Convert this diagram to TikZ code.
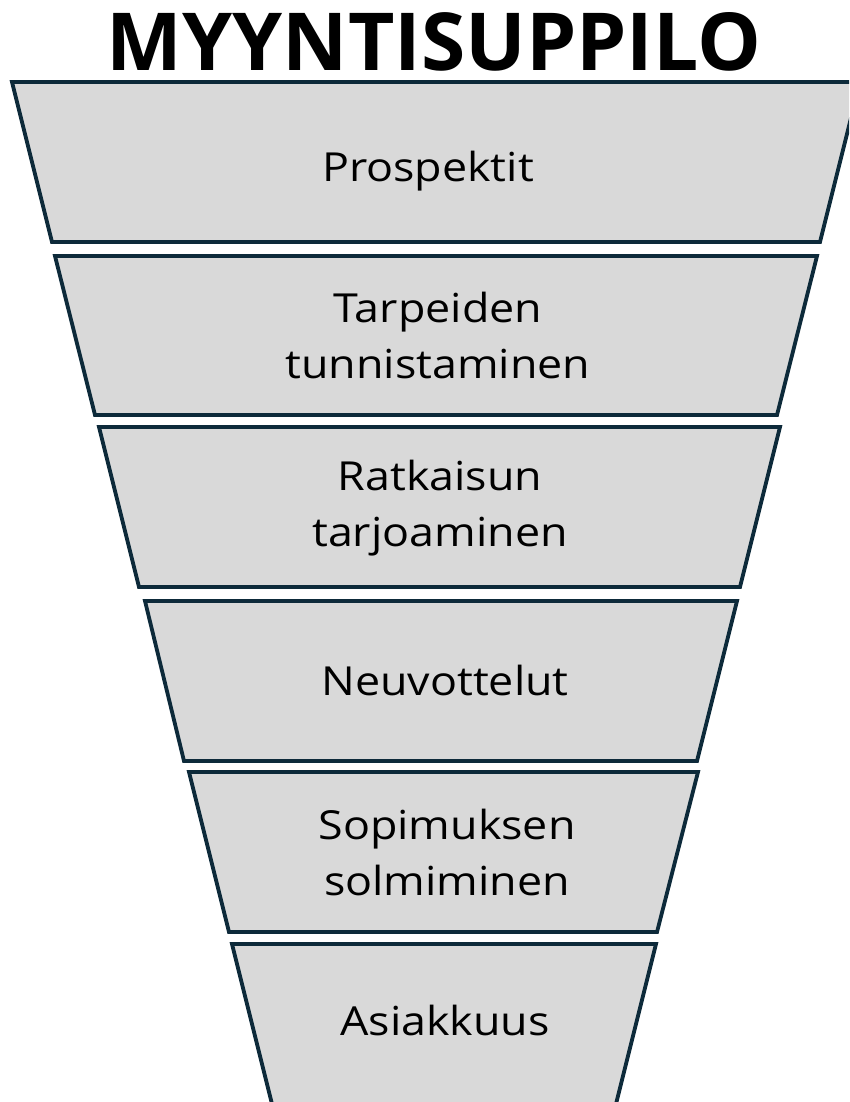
\documentclass[tikz,border=0pt]{standalone}
\usepackage{graphicx}
\usepackage{fontspec}
\setmainfont{Open Sans}
\newfontfamily\stagefont[FakeStretch=1.12]{Open Sans}
\definecolor{funnelfill}{HTML}{D9D9D9}
\definecolor{funneledge}{HTML}{0D2A3A}
\begin{document}
\begin{tikzpicture}[x=1pt,y=-1pt,
  stage/.style={fill=funnelfill, draw=funneledge, line width=3.8pt, line join=miter},
  stagetext/.style={font=\stagefont\fontsize{40}{56}\selectfont, align=center, text=black, inner sep=0pt}]
\useasboundingbox (0,0) rectangle (849,1102);

% title
\node[inner sep=0pt, anchor=base] (title) at (434,71)
  {\resizebox{654pt}{58pt}{\bfseries MYYNTISUPPILO}};

% funnel stages, top to bottom
\begin{scope}
\clip (0,0) rectangle (849,1102);
\draw[stage] (12,82)  -- (860,82)  -- (820,242) -- (52,242)  -- cycle;
\draw[stage] (55,256) -- (817,256) -- (777,415) -- (95,415)  -- cycle;
\draw[stage] (99,427) -- (780,427) -- (740,587) -- (139,587) -- cycle;
\draw[stage] (145,601) -- (737,601) -- (697,761) -- (184,761) -- cycle;
\draw[stage] (189,772) -- (698,772) -- (657,932) -- (229,932) -- cycle;
\draw[stage] (232,944) -- (656,944) -- (616,1104) -- (272,1104) -- cycle;
\end{scope}

% stage labels
\node[stagetext] (s1) at (428,171) {Prospektit};
\node[stagetext] (s2) at (438,335) {Tarpeiden\\tunnistaminen};
\node[stagetext] (s3) at (440,508) {Ratkaisun\\tarjoaminen};
\node[stagetext] (s4) at (445,680) {Neuvottelut};
\node[stagetext] (s5) at (447,852) {Sopimuksen\\solmiminen};
\node[stagetext] (s6) at (445,1020) {Asiakkuus};
\end{tikzpicture}
\end{document}
